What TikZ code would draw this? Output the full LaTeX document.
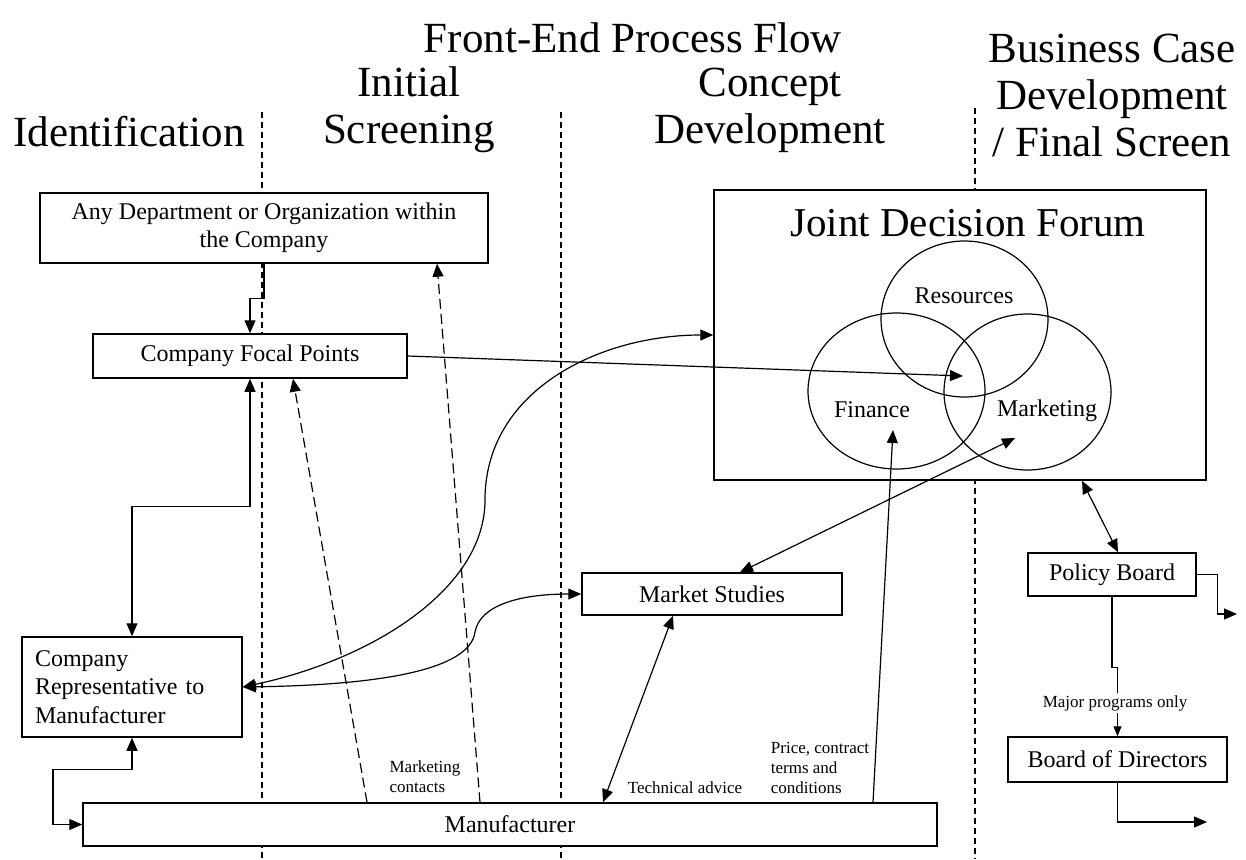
\documentclass[tikz,border=0pt]{standalone}
\usepackage{fontspec}
\setmainfont{Liberation Serif}
\usetikzlibrary{arrows.meta,shapes.geometric,calc}
\begin{document}
\begin{tikzpicture}[x=1pt,y=-1pt,line width=1.2pt,
  box/.style={draw,fill=white,line width=1.5pt,inner sep=0pt,font=\fontsize{24}{27}\selectfont},
  head/.style={font=\fontsize{43}{47}\selectfont,align=center,inner sep=0pt},
  lbl/.style={font=\fontsize{17}{20}\selectfont,align=left,inner sep=1pt},
  vlbl/.style={font=\fontsize{24}{27}\selectfont,inner sep=0pt},
  phase/.style={dash pattern=on 6pt off 4pt,line width=1.1pt},
  dsh/.style={dash pattern=on 10pt off 5pt,line width=1.2pt},
  arr/.style={-{Triangle[length=13pt,width=11pt]}},
  darr/.style={{Triangle[length=13pt,width=11pt]}-{Triangle[length=13pt,width=11pt]}},
  sarr/.style={-{Triangle[length=10pt,width=8pt]}},
  venn/.style={ellipse,draw,line width=1.2pt,inner sep=0pt}]
\useasboundingbox (0,0) rectangle (1246,859);

% phase separators
\coordinate (p1t) at (262,112); \coordinate (p1b) at (262,859);
\coordinate (p2t) at (561,112); \coordinate (p2b) at (561,859);
\coordinate (p3t) at (975,108); \coordinate (p3b) at (975,859);
\draw[phase] (p1t) -- (p1b);
\draw[phase] (p2t) -- (p2b);
\draw[phase] (p3t) -- (p3b);

% headings
\node[head] (title) at (633,38) {Front-End Process Flow};
\node[head] (h1) at (129,132) {Identification};
\node[head] (h2) at (409,110) {Initial\\Screening};
\node[head] (h3) at (770,110) {Concept\\Development};
\node[head] (h4) at (1112,95) {Business Case\\Development\\/ Final Screen};

% boxes
\node[box,minimum width=448pt,minimum height=70pt,align=center,font=\fontsize{24}{27.5}\selectfont] (ad) at (264,228) {Any Department or Organization within\\the Company};
\node[box,minimum width=314pt,minimum height=44pt] (fp) at (250,356) {Company Focal Points};
\node[box,minimum width=220pt,minimum height=100pt,text width=194pt,inner xsep=13pt,align=left,font=\fontsize{24}{28.5}\selectfont] (rep) at (132,687) {Company\\Representative to\\Manufacturer};
\node[box,minimum width=854pt,minimum height=43pt] (mf) at (510,824.5) {Manufacturer};
\node[box,minimum width=260pt,minimum height=42pt] (ms) at (712,594) {Market Studies};
\node[box,minimum width=492pt,minimum height=290pt] (jdf) at (960,335) {};
\node[font=\fontsize{41}{45}\selectfont,inner sep=0pt] (jdft) at (968,223) {Joint Decision Forum};
\node[venn,minimum width=167pt,minimum height=156pt] (res) at (964.5,319) {};
\node[venn,minimum width=177pt,minimum height=156pt] (fin) at (896.5,391) {};
\node[venn,minimum width=167pt,minimum height=156pt] (mkt) at (1027.5,392) {};
\node[vlbl] (rest) at (964,296) {Resources};
\node[vlbl] (fint) at (872,410) {Finance};
\node[vlbl] (mktt) at (1047,411) {Marketing};
\node[box,minimum width=168pt,minimum height=43pt] (pb) at (1112,574.5) {Policy Board};
\node[box,minimum width=219pt,minimum height=45pt] (bod) at (1117.5,759.5) {Board of Directors};

% targets
\coordinate (vc) at (963,376);
\coordinate (finp) at (893,430);
\coordinate (mktp) at (1015,438);
\coordinate (out1) at (1237,614);
\coordinate (out2) at (1207,822);

% connectors
\draw[arr] (ad.south) -- ++(0,35) -| (fp.north);
\draw[darr] (rep.north) -- ++(0,-130) -| (fp.south);
\draw[darr] (rep.south) -- ++(0,32) -- ++(-79,0) |- (mf.west);
\draw[arr] (fp.east) -- (vc);
\draw[darr] (rep.east) .. controls (370,660) and (485,590) .. (485,500) .. controls (485,390) and (600,335) .. (jdf.west);
\draw[darr] (rep.east) .. controls (380,685) and (470,670) .. (475,632) .. controls (480,605) and (520,594) .. (ms.west);
\draw[arr,dsh] ([xshift=-143pt]mf.north) -- ([xshift=43pt]fp.south);
\draw[arr,dsh] ([xshift=-30pt]mf.north) -- ([xshift=173pt]ad.south);
\draw[darr] ([xshift=-39pt]ms.south) -- ([xshift=93pt]mf.north);
\draw[darr] ([xshift=28pt]ms.north) -- (mktp);
\draw[arr] ([xshift=363pt]mf.north) -- (finp);
\draw[darr] ([xshift=122pt]jdf.south) -- ([xshift=6pt]pb.north);
\draw[arr] (pb.east) -- ++(21,0) |- (out1);
\draw[sarr] (pb.south) -- ++(0,71) -| (bod.north);
\draw[arr] (bod.south) |- (out2);

% labels
\node[lbl] (lmc) at (425,777) {Marketing\\contacts};
\node[lbl] (lta) at (685,788) {Technical advice};
\node[lbl] (lpc) at (820,768) {Price, contract\\terms and\\conditions};
\node[lbl,fill=white,inner sep=2pt] (lmp) at (1115,703) {Major programs only};
\end{tikzpicture}
\end{document}
